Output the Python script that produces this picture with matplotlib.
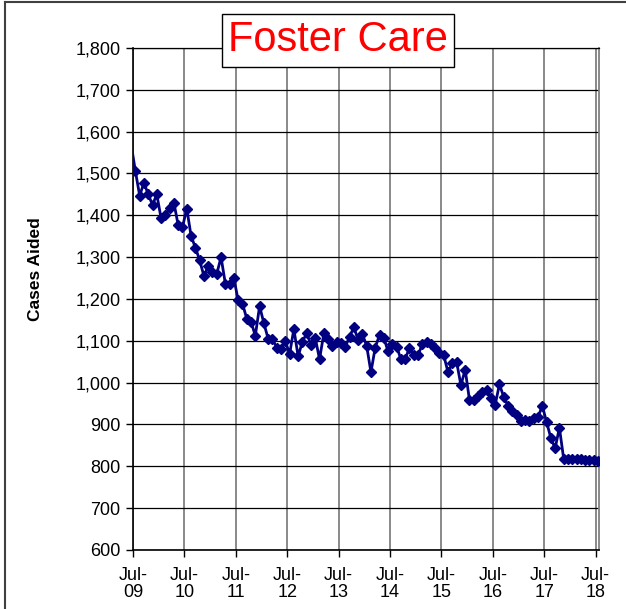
import matplotlib
matplotlib.use("Agg")
import matplotlib.pyplot as plt
from matplotlib.lines import Line2D
import numpy as np

plt.rcParams['font.family'] = ['Liberation Sans', 'DejaVu Sans']

# monthly cases aided, Jun-09 (clipped at the axis) through Jul-18
cases = [1570,
         1506, 1447, 1478, 1450, 1425, 1450, 1393, 1400, 1418, 1430, 1376, 1372,
         1416, 1351, 1323, 1293, 1255, 1279, 1265, 1260, 1300, 1237, 1235, 1249,
         1197, 1189, 1153, 1146, 1112, 1183, 1142, 1105, 1104, 1084, 1081, 1100,
         1068, 1128, 1063, 1098, 1118, 1090, 1107, 1056, 1118, 1104, 1087, 1098,
         1095, 1086, 1109, 1133, 1102, 1116, 1088, 1025, 1084, 1114, 1107, 1075,
         1093, 1086, 1056, 1056, 1084, 1065, 1065, 1093, 1098, 1093, 1082, 1070,
         1065, 1025, 1047, 1050, 994, 1031, 959, 959, 968, 977, 982, 963,
         947, 996, 966, 945, 933, 923, 908, 910, 908, 915, 917, 945,
         906, 868, 843, 892, 818, 818, 818, 817, 817, 816, 815, 814, 813]
tick_labels = ["Jul-\n09", "Jul-\n10", "Jul-\n11", "Jul-\n12", "Jul-\n13",
               "Jul-\n14", "Jul-\n15", "Jul-\n16", "Jul-\n17", "Jul-\n18"]
y_ticks = list(range(600, 1801, 100))

months = np.arange(len(cases)) - 1 + 0.55

fig = plt.figure(figsize=(6.26, 6.09), dpi=100)
ax = fig.add_axes([0.2125, 0.0969, 0.7444, 0.8243])

ax.plot(months, cases, color='#000080', lw=2, marker='D', markersize=5.5,
        markeredgecolor='#000080', markerfacecolor='#000080',
        markevery=list(range(1, len(cases))), zorder=3)

ax.set_xlim(0, 108.8)
ax.set_ylim(600, 1800)
ax.set_xticks(range(0, 109, 12))
ax.set_xticklabels(tick_labels, fontsize=13, linespacing=1.05)
ax.set_yticks(y_ticks)
ax.set_yticklabels([f"{v:,}" for v in y_ticks], fontsize=13)
ax.tick_params(axis='both', direction='out', length=5, width=1, color='black', pad=4)
ax.tick_params(axis='x', pad=7)

ax.yaxis.grid(True, color='black', lw=0.9)
ax.xaxis.grid(True, color='#808080', lw=1.3)
ax.set_axisbelow(True)
for side in ['left', 'bottom']:
    ax.spines[side].set_color('black')
    ax.spines[side].set_linewidth(1.2)
ax.spines['top'].set_color('black')
ax.spines['top'].set_linewidth(0.9)
ax.spines['right'].set_color('#808080')
ax.spines['right'].set_linewidth(1.3)

ax.set_ylabel("Cases Aided", fontsize=12.5, fontweight='bold')
ax.yaxis.set_label_coords(-0.193, 0.56)

fig.text(0.54, 0.9335, "Foster Care", color='#ff0000', fontsize=30,
         ha='center', va='center',
         bbox=dict(boxstyle='square,pad=0.15', facecolor='white', edgecolor='black', lw=1))

# outer chart border (left and top edges visible)
fig.add_artist(Line2D([0.008, 0.008], [0, 0.997], color='#404040', lw=1.5))
fig.add_artist(Line2D([0.008, 1], [0.997, 0.997], color='#404040', lw=1.5))

fig.savefig("out.png", dpi=100)
